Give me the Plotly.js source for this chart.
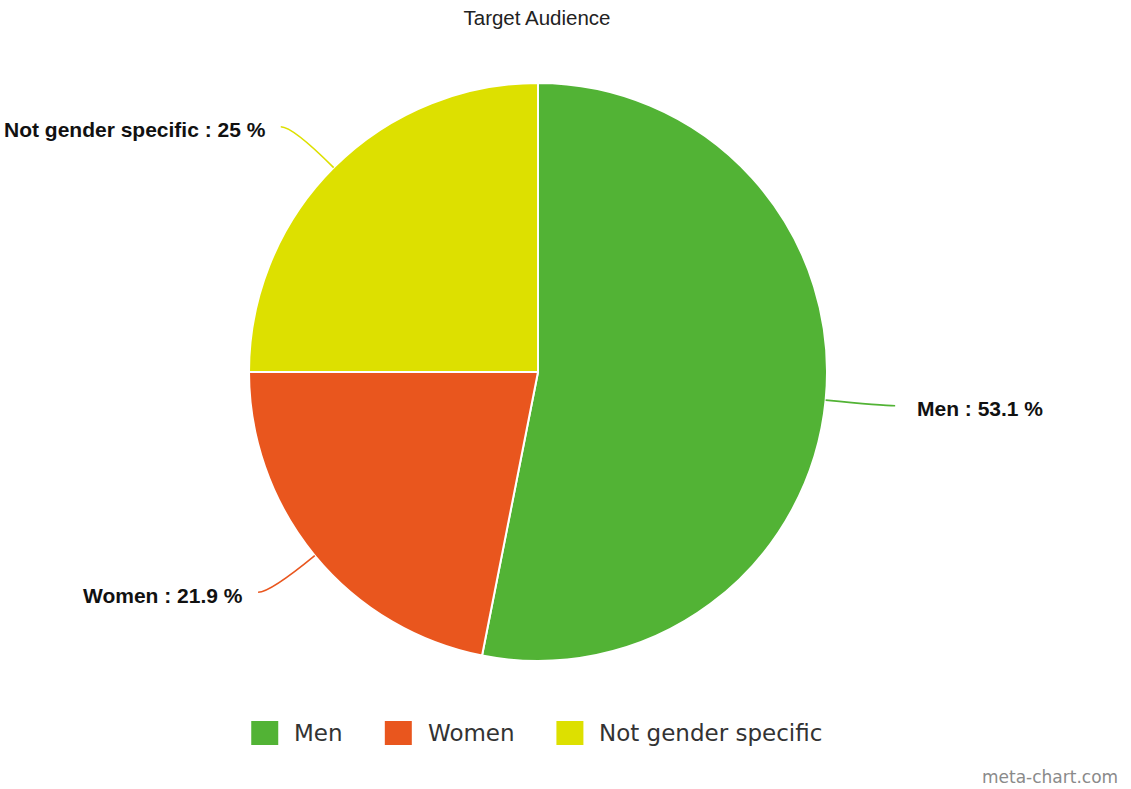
<!DOCTYPE html>
<html>
<head>
<meta charset="utf-8">
<script src="https://cdn.plot.ly/plotly-3.0.1.min.js"></script>
<style>html,body{margin:0;padding:0;background:#fff;}#chart{width:1131px;height:789px;}</style>
</head>
<body>
<div id="chart"></div>
<script>
const categories = ["Men", "Women", "Not gender specific"];
const percents = [53.1, 21.9, 25];
const colors = ["#52b335", "#e9561e", "#dde000"];
const chartTitle = "Target Audience";
const watermark = "meta-chart.com";

const W = 1131, H = 789;
const cx = 538, cy = 372, R = 289;
const px = x => x / W, py = y => 1 - y / H;

const total = percents.reduce((a, b) => a + b, 0);
const annotations = [];
const shapes = [];
let cum = 0;
percents.forEach((v, i) => {
  const mid = (cum + v / 2) / total * 2 * Math.PI; // clockwise from top
  cum += v;
  const sx = Math.sin(mid), sy = -Math.cos(mid);
  const p0 = [cx + R * sx, cy + R * sy];
  const p1 = [cx + R * 1.2 * sx, cy + R * 1.2 * sy];
  const dir = sx >= 0 ? 1 : -1;
  const p2 = [p1[0] + 12 * dir, p1[1]];
  shapes.push({
    type: "path", xref: "paper", yref: "paper",
    path: `M${px(p0[0])},${py(p0[1])} Q${px(p1[0])},${py(p1[1])} ${px(p2[0])},${py(p2[1])}`,
    line: {color: colors[i], width: 1.6}
  });
  annotations.push({
    xref: "paper", yref: "paper",
    x: px(p2[0] + (dir > 0 ? 20 : -13)), y: py(p2[1] + 3),
    xanchor: dir > 0 ? "left" : "right", yanchor: "middle",
    text: `<b>${categories[i]} : ${v} %</b>`,
    showarrow: false,
    font: {family: "Liberation Sans, Arial, sans-serif", size: 21, color: "#111"}
  });
});

// custom legend (large square swatches), laid out from measured text widths
const legSize = 23;
const ctx = document.createElement("canvas").getContext("2d");
ctx.font = legSize + "px 'DejaVu Sans'";
const sw = 27, swH = 24, swGap = 16, itemGap = 42, legY = 733, legCenter = 537;
const widths = categories.map(c => ctx.measureText(c).width);
const totalW = widths.reduce((s, w) => s + sw + swGap + w, 0) + itemGap * (categories.length - 1);
let lx = legCenter - totalW / 2;
categories.forEach((c, i) => {
  shapes.push({
    type: "rect", xref: "paper", yref: "paper",
    x0: px(lx), x1: px(lx + sw), y0: py(legY + swH / 2), y1: py(legY - swH / 2),
    fillcolor: colors[i], line: {width: 0}
  });
  annotations.push({
    xref: "paper", yref: "paper", x: px(lx + sw + swGap - 2), y: py(legY),
    xanchor: "left", yanchor: "middle", text: c, showarrow: false,
    font: {family: "DejaVu Sans, sans-serif", size: legSize, color: "#333"}
  });
  lx += sw + swGap + widths[i] + itemGap;
});

annotations.push({
  xref: "paper", yref: "paper", x: px(1120), y: py(777),
  xanchor: "right", yanchor: "middle", text: watermark, showarrow: false,
  font: {family: "DejaVu Sans, sans-serif", size: 17, color: "#8a8a8a"}
});

const data = [{
  type: "pie",
  labels: categories,
  values: percents,
  marker: {colors: colors, line: {color: "#ffffff", width: 2}},
  sort: false,
  direction: "clockwise",
  rotation: 0,
  textinfo: "none",
  hoverinfo: "label+percent",
  domain: {x: [(cx - R) / W, (cx + R) / W], y: [1 - (cy + R) / H, 1 - (cy - R) / H]}
}];

const layout = {
  width: W, height: H,
  margin: {l: 0, r: 0, t: 0, b: 0},
  paper_bgcolor: "#ffffff",
  title: {
    text: chartTitle, x: 537 / W, xanchor: "center", y: 1 - 18 / H, yanchor: "middle",
    yref: "container",
    font: {family: "Liberation Sans, Arial, sans-serif", size: 20.5, color: "#222"}
  },
  showlegend: false,
  annotations: annotations,
  shapes: shapes
};

Plotly.newPlot("chart", data, layout, {displayModeBar: false, staticPlot: true});
</script>
</body>
</html>
